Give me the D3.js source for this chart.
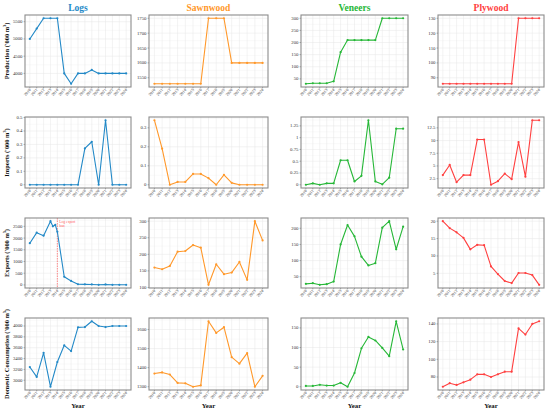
<!DOCTYPE html>
<html>
<head>
<meta charset="utf-8">
<script src="https://cdn.jsdelivr.net/npm/d3@7"></script>
<style>
  html, body { margin: 0; padding: 0; background: #fff; }
  svg { display: block; font-family: 'Liberation Serif', 'DejaVu Serif', serif; }
</style>
</head>
<body>
<div id="chart"></div>
<script>
// 年份
const years = [2010, 2011, 2012, 2013, 2014, 2015, 2016, 2017, 2018, 2019, 2020, 2021, 2022, 2023, 2024]

const products = ['Logs', 'Sawnwood', 'Veneers', 'Plywood']
const metrics = ['Production', 'Imports', 'Exports', 'Domestic Consumption']

// Production
const logsProduction = [5000, 5300, 5600, 5600, 5600, 4000, 3700, 4000, 4000, 4100, 4000, 4000, 4000, 4000, 4000]
const sawnwoodProduction = [1530, 1530, 1530, 1530, 1530, 1530, 1530, 1750, 1750, 1750, 1600, 1600, 1600, 1600, 1600]
const veneersProduction = [30, 32, 32, 32, 40, 160, 210, 210, 210, 210, 210, 300, 300, 300, 300]
const plywoodProduction = [86, 86, 86, 86, 86, 86, 86, 86, 86, 86, 86, 130, 130, 130, 130]

// Imports
const logsImports = [0, 0, 0, 0, 0, 0, 0, 0, 0.27, 0.32, 0, 0.48, 0, 0, 0]
const sawnwoodImports = [0.34, 0.19, 0, 0.015, 0.015, 0.057, 0.057, 0.035, 0, 0.052, 0.01, 0, 0, 0, 0]
const veneersImports = [0, 0.03, 0, 0.03, 0.03, 0.52, 0.52, 0.07, 0.19, 1.37, 0.07, 0.01, 0.15, 1.19, 1.19]
const plywoodImports = [3.2, 5.2, 1.8, 3.2, 3.2, 10.2, 10.2, 1.3, 2.0, 3.5, 2.4, 9.7, 2.9, 14.0, 14.0]

// Exports (logs has two extra readings inside 2013)
const logsExportYears = [2010, 2011, 2012, 2013, 2013.35, 2013.7, 2014, 2015, 2016, 2017, 2018, 2019, 2020, 2021, 2022, 2023, 2024]
const logsExports = [1780, 2230, 2100, 2720, 2500, 2560, 2270, 350, 170, 30, 25, 20, 5, 20, 5, 5, 5]
const sawnwoodExports = [160, 155, 165, 208, 210, 228, 220, 108, 170, 140, 145, 177, 123, 300, 242]
const veneersExports = [28, 30, 25, 27, 35, 150, 210, 175, 112, 85, 92, 202, 222, 135, 205]
const plywoodExports = [20, 18, 16.8, 15.2, 11.9, 13.2, 13.1, 7, 4.8, 2.8, 2.2, 5.1, 5.1, 4.5, 1.7]

// Domestic Consumption
const logsConsumption = [3244, 3062, 3506, 2881, 3337, 3644, 3537, 3975, 3981, 4087, 4000, 3980, 4000, 4000, 4000]
const sawnwoodConsumption = [1369, 1375, 1364, 1320, 1318, 1300, 1307, 1643, 1582, 1612, 1455, 1421, 1476, 1300, 1357]
const veneersConsumption = [2, 2, 5, 3, 3, 10, 0, 35, 98, 127, 118, 99, 78, 167, 95]
const plywoodConsumption = [69, 73, 71, 74, 77, 83, 83, 80, 83, 86, 86, 135, 128, 140, 143]

// Y 軸刻度
const productionTicks = [[4000, 4500, 5000, 5500], [1550, 1600, 1650, 1700, 1750], [50, 100, 150, 200, 250, 300], [90, 100, 110, 120, 130]]
const importsTicks = [[0, 0.1, 0.2, 0.3, 0.4, 0.5], [0, 0.1, 0.2, 0.3], [0, 0.25, 0.5, 0.75, 1, 1.25], [2.5, 5, 7.5, 10, 12.5]]
const exportsTicks = [[0, 500, 1000, 1500, 2000, 2500], [100, 150, 200, 250, 300], [50, 100, 150, 200], [5, 10, 15, 20]]
const consumptionTicks = [[3000, 3200, 3400, 3600, 3800, 4000], [1300, 1400, 1500, 1600], [0, 50, 100, 150], [80, 100, 120, 140]]

const banYear = 2014

const colors = ['#2389c7', '#ff982a', '#26b737', '#ff4040']

const width = 550
const height = 413

// 面板位置
const cols = [[25, 131], [149, 268], [301, 408], [438, 544]]
const rows = [[15, 87], [117, 188], [218, 288], [318, 390]]

const grid = [
  { x: years, series: [logsProduction, sawnwoodProduction, veneersProduction, plywoodProduction], ticks: productionTicks },
  { x: years, series: [logsImports, sawnwoodImports, veneersImports, plywoodImports], ticks: importsTicks },
  { x: years, series: [logsExports, sawnwoodExports, veneersExports, plywoodExports], ticks: exportsTicks },
  { x: years, series: [logsConsumption, sawnwoodConsumption, veneersConsumption, plywoodConsumption], ticks: consumptionTicks },
]

const svg = d3.select('#chart').append('svg').attr('width', width).attr('height', height)

// 欄標題
svg.selectAll('.colTitle')
  .data(products)
  .join('text')
  .attr('class', 'colTitle')
  .attr('x', (d, i) => (cols[i][0] + cols[i][1]) / 2)
  .attr('y', 11)
  .attr('text-anchor', 'middle')
  .attr('font-size', 9.5)
  .attr('font-weight', 'bold')
  .attr('fill', (d, i) => colors[i])
  .text(d => d)

// 列標題
svg.selectAll('.rowTitle')
  .data(metrics)
  .join('text')
  .attr('class', 'rowTitle')
  .attr('transform', (d, i) => `translate(8.5,${(rows[i][0] + rows[i][1]) / 2}) rotate(-90)`)
  .attr('text-anchor', 'middle')
  .attr('font-size', 6.4)
  .attr('font-weight', 'bold')
  .attr('fill', '#111')
  .each(function (d) {
    const t = d3.select(this)
    t.append('tspan').text(`${d} ('000 m`)
    t.append('tspan').attr('font-size', 4.2).attr('dy', -2.2).text('3')
    t.append('tspan').attr('dy', 2.2).text(')')
  })

// Year 標籤
svg.selectAll('.yearTitle')
  .data(cols)
  .join('text')
  .attr('class', 'yearTitle')
  .attr('x', d => (d[0] + d[1]) / 2)
  .attr('y', 408)
  .attr('text-anchor', 'middle')
  .attr('font-size', 6.8)
  .attr('font-weight', 'bold')
  .attr('fill', '#111')
  .text('Year')

grid.forEach((row, r) => {
  row.series.forEach((values, c) => {
    const xs = r === 2 && c === 0 ? logsExportYears : row.x
    const [x0, x1] = cols[c]
    const [y0, y1] = rows[r]

    const x = d3.scaleLinear().domain([2009.3, 2024.7]).range([x0, x1])
    const [lo, hi] = d3.extent(values)
    const pad = (hi - lo) * 0.05
    const y = d3.scaleLinear().domain([lo - pad, hi + pad]).range([y1, y0])
    const ticks = row.ticks[c]

    const g = svg.append('g')

    // 格線
    const step = ticks[1] - ticks[0]
    const minor = ticks.map(t => t - step / 2).concat([ticks[ticks.length - 1] + step / 2])
      .filter(t => t > y.domain()[0] && t < y.domain()[1])
    g.selectAll('.minor')
      .data(minor)
      .join('line')
      .attr('x1', x0).attr('x2', x1)
      .attr('y1', d => y(d)).attr('y2', d => y(d))
      .attr('stroke', '#f2f2f2').attr('stroke-width', 0.4)
    g.selectAll('.hgrid')
      .data(ticks)
      .join('line')
      .attr('x1', x0).attr('x2', x1)
      .attr('y1', d => y(d)).attr('y2', d => y(d))
      .attr('stroke', '#e6e6e6').attr('stroke-width', 0.5)
    g.selectAll('.vgrid')
      .data(years)
      .join('line')
      .attr('x1', d => x(d)).attr('x2', d => x(d))
      .attr('y1', y0).attr('y2', y1)
      .attr('stroke', '#e6e6e6').attr('stroke-width', 0.5)

    // 禁止出口線
    if (r === 2 && c === 0) {
      g.append('line')
        .attr('x1', x(banYear)).attr('x2', x(banYear))
        .attr('y1', y0).attr('y2', y1)
        .attr('stroke', '#ff5a5a').attr('stroke-width', 0.7)
        .attr('stroke-dasharray', '1.5,1')
      g.append('text')
        .attr('x', x(banYear) + 2).attr('y', y0 + 5)
        .attr('font-size', 3.6).attr('fill', '#ff5a5a')
        .selectAll('tspan')
        .data(['Log export', 'ban'])
        .join('tspan')
        .attr('x', x(banYear) + 2)
        .attr('dy', (d, i) => (i ? 4 : 0))
        .text(d => d)
    }

    // 折線
    const pts = values.map((v, i) => [xs[i], v])
    g.append('path')
      .datum(pts)
      .attr('fill', 'none')
      .attr('stroke', colors[c])
      .attr('stroke-width', 1.1)
      .attr('stroke-linejoin', 'round')
      .attr('d', d3.line().x(d => x(d[0])).y(d => y(d[1])))
    g.selectAll('.pt')
      .data(pts)
      .join('circle')
      .attr('cx', d => x(d[0])).attr('cy', d => y(d[1]))
      .attr('r', 1.1)
      .attr('fill', colors[c])

    // 外框
    g.append('rect')
      .attr('x', x0).attr('y', y0)
      .attr('width', x1 - x0).attr('height', y1 - y0)
      .attr('fill', 'none')
      .attr('stroke', '#8c8c8c').attr('stroke-width', 1.1)

    // Y 軸
    g.selectAll('.ytick')
      .data(ticks)
      .join('line')
      .attr('x1', x0 - 1.5).attr('x2', x0)
      .attr('y1', d => y(d)).attr('y2', d => y(d))
      .attr('stroke', '#555').attr('stroke-width', 0.4)
    g.selectAll('.ylabel')
      .data(ticks)
      .join('text')
      .attr('x', x0 - 2.5).attr('y', d => y(d) + 1.5)
      .attr('text-anchor', 'end')
      .attr('font-size', 4.8)
      .attr('fill', '#333')
      .text(d => String(d))

    // X 軸
    g.selectAll('.xtick')
      .data(years)
      .join('line')
      .attr('x1', d => x(d)).attr('x2', d => x(d))
      .attr('y1', y1).attr('y2', y1 + 1.5)
      .attr('stroke', '#555').attr('stroke-width', 0.4)
    g.selectAll('.xlabel')
      .data(years)
      .join('text')
      .attr('transform', d => `translate(${x(d) + 1.2},${y1 + 3}) rotate(-50)`)
      .attr('text-anchor', 'end')
      .attr('font-size', 4.1)
      .attr('fill', '#333')
      .text(d => d)
  })
})
</script>
</body>
</html>
